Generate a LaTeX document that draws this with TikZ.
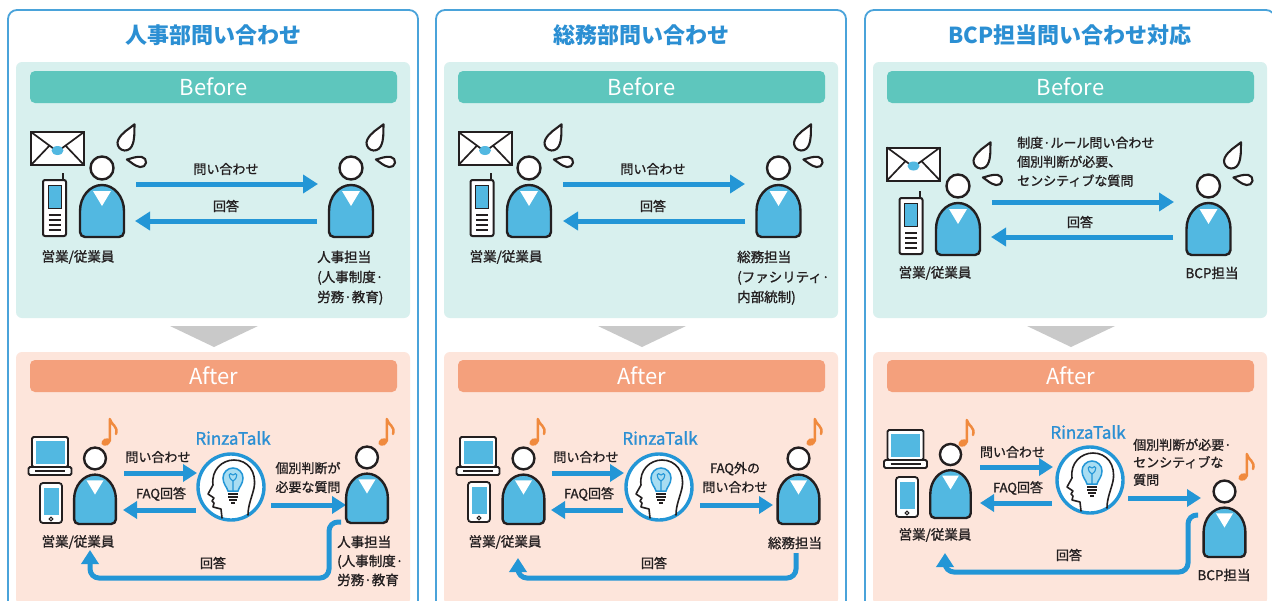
\documentclass[tikz,border=0pt]{standalone}
\usepackage{fontspec}
\setmainfont{Noto Sans CJK JP}
\newfontfamily\jpmed{Noto Sans CJK JP}[FakeBold=1.2]
\usetikzlibrary{arrows.meta}

\definecolor{frameblue}{HTML}{4AA3DA}
\definecolor{titleblue}{HTML}{2B8FD3}
\definecolor{arrowblue}{HTML}{2396D6}
\definecolor{beforebg}{HTML}{D8F0EE}
\definecolor{beforebar}{HTML}{5EC6BD}
\definecolor{afterbg}{HTML}{FDE5DB}
\definecolor{afterbar}{HTML}{F4A07C}
\definecolor{bodyblue}{HTML}{52B8E1}
\definecolor{bulbblue}{HTML}{A8DDF2}
\definecolor{noteorange}{HTML}{F08A3E}
\definecolor{markgray}{HTML}{C9C9C9}
\definecolor{ink}{HTML}{231F20}

% person: origin at the bottom centre of the body
\newcommand\personfig{%
  \path[fill=bodyblue,draw=ink,line width=2.4pt]
    (-22,26) arc[start angle=180,end angle=0,x radius=22,y radius=26]
    -- (22,5) arc[start angle=0,end angle=-90,radius=5]
    -- (-17,0) arc[start angle=-90,end angle=-180,radius=5] -- cycle;
  \fill[white] (-9,46) -- (9,46) -- (0,31) -- cycle;
  \draw[fill=white,draw=ink,line width=2.4pt] (0,69) circle[radius=11.5];}
% sweat drop: origin at the centre of the bulb, tip pointing up
\newcommand\dropfig{%
  \draw[draw=ink,fill=white,line width=2.1pt,line join=round]
    (0,21) .. controls (3,14) and (7.5,8) .. (7.5,0)
    arc[start angle=0,end angle=-180,radius=7.5]
    .. controls (-7.5,8) and (-3,14) .. (0,21) -- cycle;}

\tikzset{
  panelframe/.style={draw=frameblue,line width=1.8pt,rounded corners=9pt},
  paneltitle/.style={font=\bfseries\fontsize{22}{26}\selectfont,text=titleblue,inner sep=0pt},
  beforearea/.style={fill=beforebg,rounded corners=6pt},
  beforebarfill/.style={fill=beforebar,rounded corners=5pt},
  afterarea/.style={fill=afterbg,rounded corners=6pt},
  afterbarfill/.style={fill=afterbar,rounded corners=5pt},
  bartext/.style={text=white,font=\fontsize{22}{26}\selectfont,inner sep=0pt},
  downmark/.style={fill=markgray},
  lbl/.style={font=\jpmed\fontsize{13.5}{20}\selectfont,text=ink,inner sep=0pt},
  arrowlbl/.style={font=\jpmed\fontsize{13}{19}\selectfont,text=ink,inner sep=0pt},
  brand/.style={font=\jpmed\fontsize{17}{20}\selectfont,text=titleblue,inner sep=0pt},
  flowarrow/.style={draw=arrowblue,line width=5pt,-{Triangle[length=15pt,width=18pt]}},
  flowsmall/.style={draw=arrowblue,line width=5pt,-{Triangle[length=14pt,width=17pt]}},
  pics/worried/.style={code={%
    \personfig
    \begin{scope}[shift={(23,94)},rotate=-27]\dropfig\end{scope}
    \begin{scope}[shift={(39,75)},rotate=80,scale=0.68]\dropfig\end{scope}}},
  pics/calm/.style={code={\personfig}},
  pics/envelope/.style={code={%
    \draw[ink,fill=white,line width=2pt] (-26.5,-16.5) rectangle (26.5,16.5);
    \draw[ink,line width=1.7pt,line join=round] (-26.5,16.5) -- (0,-3) -- (26.5,16.5);
    \draw[ink,line width=1.7pt] (-26.5,-16.5) -- (-8,2.9) (26.5,-16.5) -- (8,2.9);
    \fill[bodyblue] (0,-2) ellipse[x radius=6,y radius=4.5];}},
  pics/phone/.style={code={%
    \draw[ink,line width=2pt] (8.5,27) -- (8.5,35);
    \draw[ink,fill=white,line width=2pt,rounded corners=2pt] (-11.5,-28) rectangle (11.5,28);
    \draw[ink,fill=bodyblue,line width=0.8pt] (-6.5,0) rectangle (6.5,23);
    \draw[ink,line width=1.3pt] (-6,-7) -- (6,-7) (-6,-12) -- (6,-12) (-6,-17) -- (6,-17) (-6,-22) -- (6,-22);}},
  pics/laptop/.style={code={%
    \draw[ink,fill=white,line width=1.8pt,rounded corners=1.5pt] (-18,8) rectangle (18,38);
    \fill[bodyblue] (-14.5,11.5) rectangle (14.5,34.5);
    \draw[ink,fill=white,line width=1.8pt,rounded corners=1.5pt] (-21.5,0) rectangle (21.5,8);
    \draw[ink,line width=1.1pt] (-15,4) -- (15,4);}},
  pics/smartphone/.style={code={%
    \draw[ink,fill=white,line width=1.8pt,rounded corners=3pt] (-11,-20) rectangle (11,20);
    \fill[bodyblue] (-7.5,-12) rectangle (7.5,15);
    \draw[ink,line width=1.1pt] (0,-16) circle[radius=1.8];}},
  pics/note/.style={code={%
    \fill[noteorange,rotate=25] (0,0) ellipse[x radius=4.8,y radius=3.6];
    \draw[noteorange,line width=2.5pt,line cap=round,line join=round]
      (3.8,1) -- (3.8,23) .. controls (5,17) and (12.5,16) .. (10,8);}},
  pics/ai/.style={code={%
    \draw[arrowblue,fill=white,line width=3.4pt] (0,0) circle[radius=33];
    \draw[ink,line width=1.6pt,line join=round,line cap=round]
      (-9,-31) -- (-10,-22) -- (-18,-20) -- (-17,-16) -- (-19,-14) -- (-17,-11)
      -- (-23,-7) -- (-18,2) .. controls (-20,17) and (-9,27) .. (3,27)
      .. controls (17,27) and (26,15) .. (23,-1) .. controls (21,-10) and (17,-18) .. (17,-28);
    \draw[arrowblue,fill=bulbblue,line width=1.5pt]
      (-3,-4) .. controls (-4,0) and (-8,3) .. (-8,9)
      arc[start angle=180,end angle=0,radius=10]
      .. controls (12,3) and (8,0) .. (7,-4) -- cycle;
    \draw[arrowblue,line width=1.1pt] (2,-4) -- (2,6)
      (2,6) .. controls (-4,10) and (-2,16) .. (2,12) .. controls (6,16) and (8,10) .. (2,6);
    \draw[ink,line width=1.3pt] (-3,-7) -- (7,-7) (-3,-10) -- (7,-10) (-2,-13) -- (6,-13) (0,-16) -- (4,-16);}},
}

% frame, title, Before/After bands and the grey marker of one column
\newcommand\panelbase[3]{%
  \begin{scope}[xshift=#1]
    \draw[panelframe] (8,-10) rectangle (418,-620);
    \node[paneltitle] (#3title) at (213,-35) {#2};
    \fill[beforearea] (16,-62) rectangle (410,-318);
    \fill[beforebarfill] (30,-71) rectangle (397,-103);
    \node[bartext] (#3before) at (213.5,-87) {Before};
    \fill[downmark] (170,-326) -- (258,-326) -- (214,-347) -- cycle;
    \fill[afterarea] (16,-352) rectangle (410,-605);
    \fill[afterbarfill] (30,-360) rectangle (397,-392);
    \node[bartext] (#3after) at (213.5,-376) {After};
  \end{scope}}

\begin{document}
\begin{tikzpicture}[x=1pt,y=1pt]
\useasboundingbox (0,0) rectangle (1272,-600);
\clip (0,0) rectangle (1272,-600);
\fill[white] (0,0) rectangle (1272,-600);

\panelbase{0pt}{人事部問い合わせ}{a}
\panelbase{428pt}{総務部問い合わせ}{b}
\panelbase{857pt}{BCP担当問い合わせ対応}{c}

% ---------- column 1 : Before ----------
\pic at (57.5,-148.5) {envelope};
\pic at (54.5,-208) {phone};
\pic at (102,-237) {worried};
\pic at (351,-237) {worried};
\coordinate (a1s) at (136,-184); \coordinate (a1e) at (318,-184);
\coordinate (a2s) at (317,-221); \coordinate (a2e) at (135,-221);
\draw[flowarrow] (a1s) -- (a1e);
\draw[flowarrow] (a2s) -- (a2e);
\node[arrowlbl] (a1l) at (226,-169) {問い合わせ};
\node[arrowlbl] (a2l) at (226,-206) {回答};
\node[lbl] (aemp) at (78,-257) {営業/従業員};
\node[lbl,align=left,anchor=north west] (ahr) at (317,-250.5) {人事担当\\(人事制度·\\労務·教育)};

% ---------- column 1 : After ----------
\pic at (50,-475) {laptop};
\pic at (51,-503) {smartphone};
\pic[scale=0.95] at (95,-524) {calm};
\pic at (106,-442) {note};
\node[brand] (abrand) at (233,-438) {RinzaTalk};
\pic at (231,-487) {ai};
\coordinate (a3s) at (124,-473); \coordinate (a3e) at (197,-473);
\coordinate (a4s) at (196,-510); \coordinate (a4e) at (123,-510);
\coordinate (a5s) at (271,-505); \coordinate (a5e) at (346,-505);
\draw[flowsmall] (a3s) -- (a3e);
\draw[flowsmall] (a4s) -- (a4e);
\draw[flowsmall] (a5s) -- (a5e);
\node[arrowlbl] (a3l) at (158,-457) {問い合わせ};
\node[arrowlbl] (a4l) at (161,-494) {FAQ回答};
\node[arrowlbl,align=center] (a5l) at (308,-477.5) {個別判断が\\必要な質問};
\pic[scale=0.95] at (367,-523) {calm};
\pic at (383,-442) {note};
\node[lbl] (aemp2) at (78,-542) {営業/従業員};
\node[lbl,align=left,anchor=north west,font=\jpmed\fontsize{13.5}{19}\selectfont] (ahr2) at (337,-535.5) {人事担当\\(人事制度·\\労務·教育};
\coordinate (a6s) at (341,-522); \coordinate (a6e) at (90,-550);
\draw[flowsmall,rounded corners=9pt] (a6s) -- (329,-522) -- (329,-578) -- (90,-578) -- (a6e);
\node[arrowlbl] (a6l) at (213,-563) {回答};

% ---------- column 2 : Before ----------
\pic at (485,-148.5) {envelope};
\pic at (482,-208) {phone};
\pic at (529,-237) {worried};
\pic at (778.5,-237) {worried};
\coordinate (b1s) at (563,-184); \coordinate (b1e) at (745,-184);
\coordinate (b2s) at (745,-221); \coordinate (b2e) at (563,-221);
\draw[flowarrow] (b1s) -- (b1e);
\draw[flowarrow] (b2s) -- (b2e);
\node[arrowlbl] (b1l) at (653,-169) {問い合わせ};
\node[arrowlbl] (b2l) at (653,-206) {回答};
\node[lbl] (bemp) at (506,-257) {営業/従業員};
\node[lbl,align=left,anchor=north west] (bga) at (737,-250.5) {総務担当\\(ファシリティ·\\内部統制)};

% ---------- column 2 : After ----------
\pic at (478,-475) {laptop};
\pic at (479,-502) {smartphone};
\pic[scale=0.95] at (523.5,-524) {calm};
\pic at (534,-442) {note};
\node[brand] (bbrand) at (660,-438) {RinzaTalk};
\pic at (659,-487) {ai};
\coordinate (b3s) at (552,-473); \coordinate (b3e) at (624,-473);
\coordinate (b4s) at (623,-510); \coordinate (b4e) at (551,-510);
\coordinate (b5s) at (700,-505); \coordinate (b5e) at (773,-505);
\draw[flowsmall] (b3s) -- (b3e);
\draw[flowsmall] (b4s) -- (b4e);
\draw[flowsmall] (b5s) -- (b5e);
\node[arrowlbl] (b3l) at (586,-457) {問い合わせ};
\node[arrowlbl] (b4l) at (589,-494) {FAQ回答};
\node[arrowlbl,align=center] (b5l) at (735,-477.5) {FAQ外の\\問い合わせ};
\pic[scale=0.95] at (798.5,-524) {calm};
\pic at (811,-442) {note};
\node[lbl] (bemp2) at (505,-542) {営業/従業員};
\node[lbl] (bga2) at (795,-543) {総務担当};
\coordinate (b6s) at (796,-553); \coordinate (b6e) at (518,-558);
\draw[flowsmall,rounded corners=9pt] (b6s) -- (796,-578) -- (518,-578) -- (b6e);
\node[arrowlbl] (b6l) at (654,-563) {回答};

% ---------- column 3 : Before ----------
\pic at (913.5,-164) {envelope};
\pic at (911,-226) {phone};
\pic at (958,-255) {worried};
\pic at (1208.5,-255) {worried};
\coordinate (c1s) at (992,-202); \coordinate (c1e) at (1174,-202);
\coordinate (c2s) at (1173,-237); \coordinate (c2e) at (991,-237);
\draw[flowarrow] (c1s) -- (c1e);
\draw[flowarrow] (c2s) -- (c2e);
\node[arrowlbl,align=left,anchor=north west] (c1l) at (1017,-136.5) {制度·ルール問い合わせ\\個別判断が必要、\\センシティブな質問};
\node[arrowlbl] (c2l) at (1080,-222) {回答};
\node[lbl] (cemp) at (935,-273) {営業/従業員};
\node[lbl] (cbcp) at (1212,-273) {BCP担当};

% ---------- column 3 : After ----------
\pic at (905.5,-468) {laptop};
\pic at (907,-497) {smartphone};
\pic[scale=0.92] at (950.5,-518) {calm};
\pic at (963,-443) {note};
\node[brand] (cbrand) at (1088,-432) {RinzaTalk};
\pic at (1090,-480) {ai};
\coordinate (c3s) at (980,-467); \coordinate (c3e) at (1053,-467);
\coordinate (c4s) at (1052,-503); \coordinate (c4e) at (980,-503);
\coordinate (c5s) at (1128,-498); \coordinate (c5e) at (1201,-498);
\draw[flowsmall] (c3s) -- (c3e);
\draw[flowsmall] (c4s) -- (c4e);
\draw[flowsmall] (c5s) -- (c5e);
\node[arrowlbl] (c3l) at (1012.5,-452) {問い合わせ};
\node[arrowlbl] (c4l) at (1018,-488) {FAQ回答};
\node[arrowlbl,align=left,anchor=north west,font=\jpmed\fontsize{13}{17.5}\selectfont] (c5l) at (1133,-438.5) {個別判断が必要·\\センシティブな\\質問};
\pic[scale=0.95] at (1224.5,-557) {calm};
\pic at (1243,-477) {note};
\node[lbl] (cemp2) at (935,-535) {営業/従業員};
\node[lbl] (cbcp2) at (1224,-575) {BCP担当};
\coordinate (c6s) at (1198,-515); \coordinate (c6e) at (945,-553);
\draw[flowsmall,rounded corners=9pt] (c6s) -- (1188,-515) -- (1188,-572) -- (945,-572) -- (c6e);
\node[arrowlbl] (c6l) at (1069,-555) {回答};
\end{tikzpicture}
\end{document}
